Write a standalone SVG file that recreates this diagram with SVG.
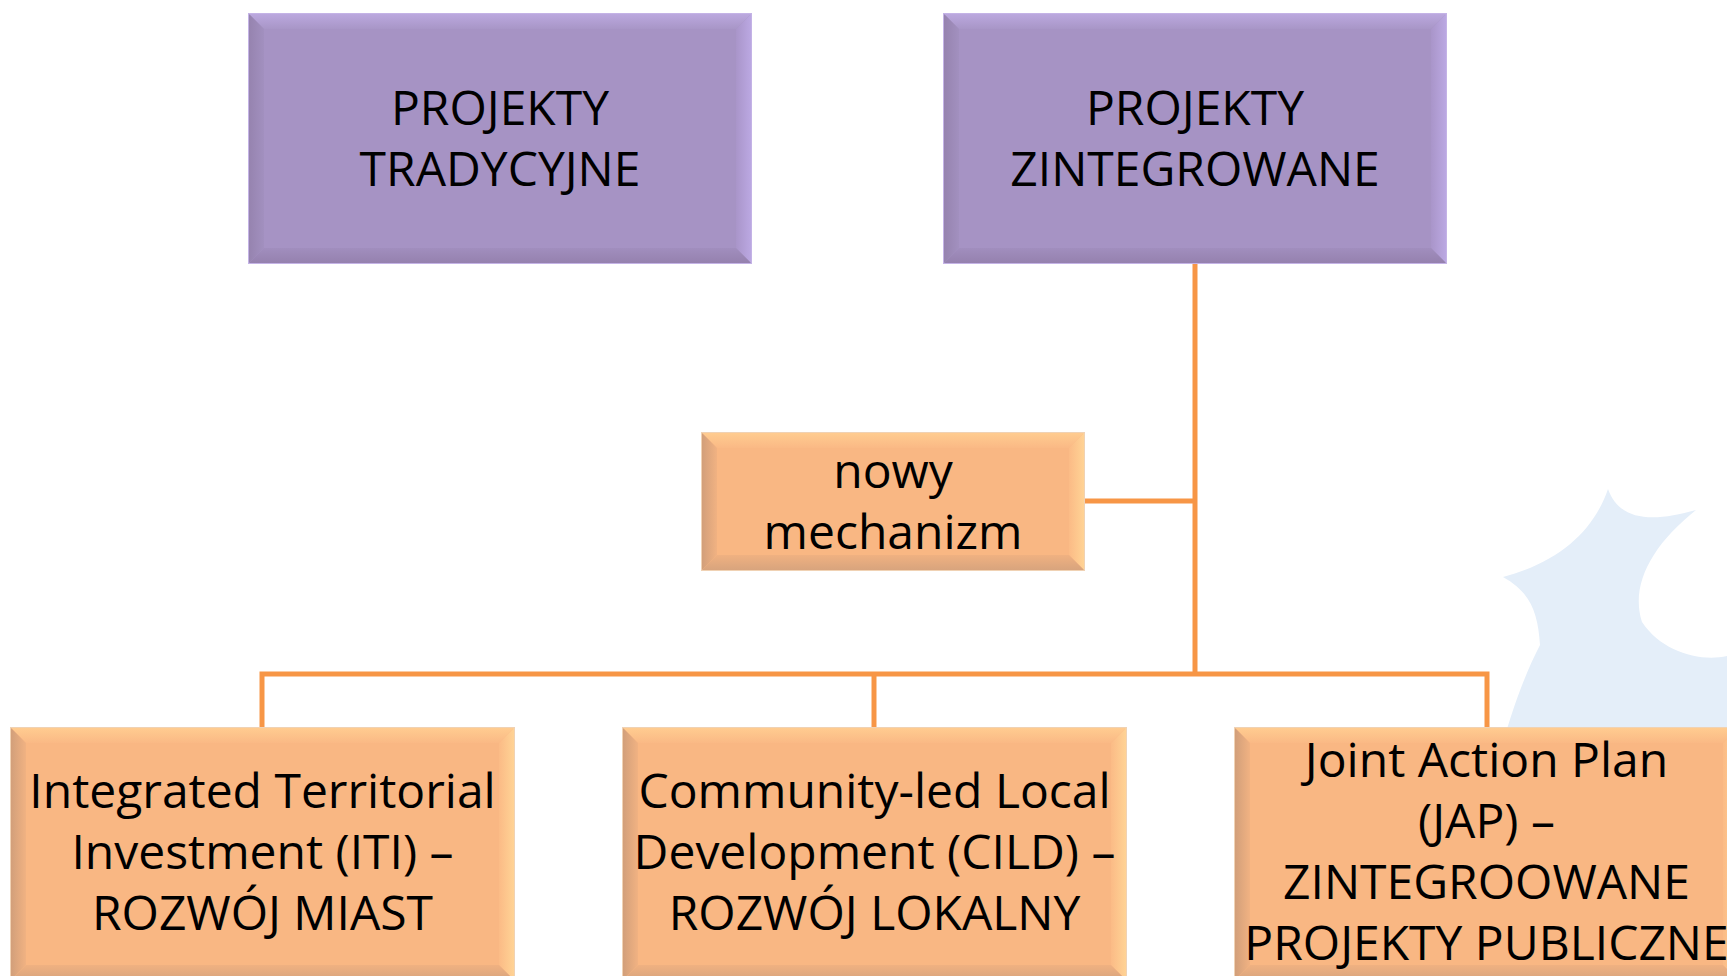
<svg xmlns="http://www.w3.org/2000/svg" width="1727" height="976" viewBox="0 0 1727 976">
<style>
.t{font-family:"Open Sans","Liberation Sans",sans-serif;font-size:48px;fill:#000;text-anchor:middle}
.pb{fill:#A693C4;stroke:#C4B3E6;stroke-width:2}
.ob{fill:#F9B783;stroke:#F0D2B4;stroke-width:2}
.pt{fill:url(#pTop)}.pl{fill:url(#pLeft)}.pr{fill:url(#pRight)}.pm{fill:url(#pBot)}
.ot{fill:url(#oTop)}.ol{fill:url(#oLeft)}.or{fill:url(#oRight)}.om{fill:url(#oBot)}
.con{fill:none;stroke:#F79646;stroke-width:5;stroke-linejoin:miter}
</style>
<defs>
<linearGradient id="pTop" x1="0" y1="0" x2="0" y2="1"><stop offset="0" stop-color="#BBA8DE"/><stop offset="1" stop-color="#A896C7"/></linearGradient>
<linearGradient id="pLeft" x1="0" y1="0" x2="1" y2="0"><stop offset="0" stop-color="#9683AF"/><stop offset="1" stop-color="#A290BF"/></linearGradient>
<linearGradient id="pRight" x1="0" y1="0" x2="1" y2="0"><stop offset="0" stop-color="#A995C9"/><stop offset="1" stop-color="#BBA8E2"/></linearGradient>
<linearGradient id="pBot" x1="0" y1="0" x2="0" y2="1"><stop offset="0" stop-color="#A18EBE"/><stop offset="1" stop-color="#9581AE"/></linearGradient>
<linearGradient id="oTop" x1="0" y1="0" x2="0" y2="1"><stop offset="0" stop-color="#FFCC90"/><stop offset="1" stop-color="#FAB985"/></linearGradient>
<linearGradient id="oLeft" x1="0" y1="0" x2="1" y2="0"><stop offset="0" stop-color="#D29F7A"/><stop offset="1" stop-color="#F1B282"/></linearGradient>
<linearGradient id="oRight" x1="0" y1="0" x2="1" y2="0"><stop offset="0" stop-color="#FBBB86"/><stop offset="1" stop-color="#FFD395"/></linearGradient>
<linearGradient id="oBot" x1="0" y1="0" x2="0" y2="1"><stop offset="0" stop-color="#F0B181"/><stop offset="1" stop-color="#D8A47D"/></linearGradient>
</defs>
<rect x="0" y="0" width="1727" height="976" fill="#FFFFFF"/>
<g id="watermark">
<path d="M1503,577 C1560,562 1594,530 1608,489 C1620,522 1654,522 1696,510 C1652,545 1630,585 1642,622 C1662,652 1700,662 1727,656 L1727,976 L1466,976 C1474,860 1496,730 1540,645 C1538,612 1530,592 1503,577 Z" fill="#E4EEF9"/>
</g>
<g id="connectors">
<path class="con" d="M1195,263 V674"/>
<path class="con" d="M1084,501 H1195"/>
<path class="con" d="M262,728 V674 H1487 V728"/>
<path class="con" d="M874,674 V728"/>
</g>
<g id="projekty-tradycyjne">
<rect class="pb" x="249" y="14" width="502" height="249"/>
<polygon class="pt" points="249,14 751,14 736,29 264,29"/>
<polygon class="pl" points="249,14 264,29 264,248 249,263"/>
<polygon class="pr" points="751,14 751,263 736,248 736,29"/>
<polygon class="pm" points="249,263 264,248 736,248 751,263"/>
<text class="t" x="500" y="125">PROJEKTY</text>
<text class="t" x="500" y="186">TRADYCYJNE</text>
</g>
<g id="projekty-zintegrowane">
<rect class="pb" x="944" y="14" width="502" height="249"/>
<polygon class="pt" points="944,14 1446,14 1431,29 959,29"/>
<polygon class="pl" points="944,14 959,29 959,248 944,263"/>
<polygon class="pr" points="1446,14 1446,263 1431,248 1431,29"/>
<polygon class="pm" points="944,263 959,248 1431,248 1446,263"/>
<text class="t" x="1195" y="125">PROJEKTY</text>
<text class="t" x="1195" y="186">ZINTEGROWANE</text>
</g>
<g id="nowy-mechanizm">
<rect class="ob" x="702" y="433" width="382" height="137"/>
<polygon class="ot" points="702,433 1084,433 1069,448 717,448"/>
<polygon class="ol" points="702,433 717,448 717,555 702,570"/>
<polygon class="or" points="1084,433 1084,570 1069,555 1069,448"/>
<polygon class="om" points="702,570 717,555 1069,555 1084,570"/>
<text class="t" x="893" y="488">nowy</text>
<text class="t" x="893" y="549">mechanizm</text>
</g>
<g id="iti">
<rect class="ob" x="11" y="728" width="503" height="252"/>
<polygon class="ot" points="11,728 514,728 499,743 26,743"/>
<polygon class="ol" points="11,728 26,743 26,965 11,980"/>
<polygon class="or" points="514,728 514,980 499,965 499,743"/>
<polygon class="om" points="11,980 26,965 499,965 514,980"/>
<text class="t" x="262.5" y="808">Integrated Territorial</text>
<text class="t" x="262.5" y="869">Investment (ITI) –</text>
<text class="t" x="262.5" y="930">ROZWÓJ MIAST</text>
</g>
<g id="cild">
<rect class="ob" x="623" y="728" width="503" height="252"/>
<polygon class="ot" points="623,728 1126,728 1111,743 638,743"/>
<polygon class="ol" points="623,728 638,743 638,965 623,980"/>
<polygon class="or" points="1126,728 1126,980 1111,965 1111,743"/>
<polygon class="om" points="623,980 638,965 1111,965 1126,980"/>
<text class="t" x="874.5" y="808">Community-led Local</text>
<text class="t" x="874.5" y="869">Development (CILD) –</text>
<text class="t" x="874.5" y="930">ROZWÓJ LOKALNY</text>
</g>
<g id="jap">
<rect class="ob" x="1235" y="728" width="503" height="252"/>
<polygon class="ot" points="1235,728 1738,728 1723,743 1250,743"/>
<polygon class="ol" points="1235,728 1250,743 1250,965 1235,980"/>
<polygon class="or" points="1738,728 1738,980 1723,965 1723,743"/>
<polygon class="om" points="1235,980 1250,965 1723,965 1738,980"/>
<text class="t" x="1486.5" y="777">Joint Action Plan</text>
<text class="t" x="1486.5" y="838">(JAP) –</text>
<text class="t" x="1486.5" y="899">ZINTEGROOWANE</text>
<text class="t" x="1486.5" y="960">PROJEKTY PUBLICZNE</text>
</g>
</svg>
